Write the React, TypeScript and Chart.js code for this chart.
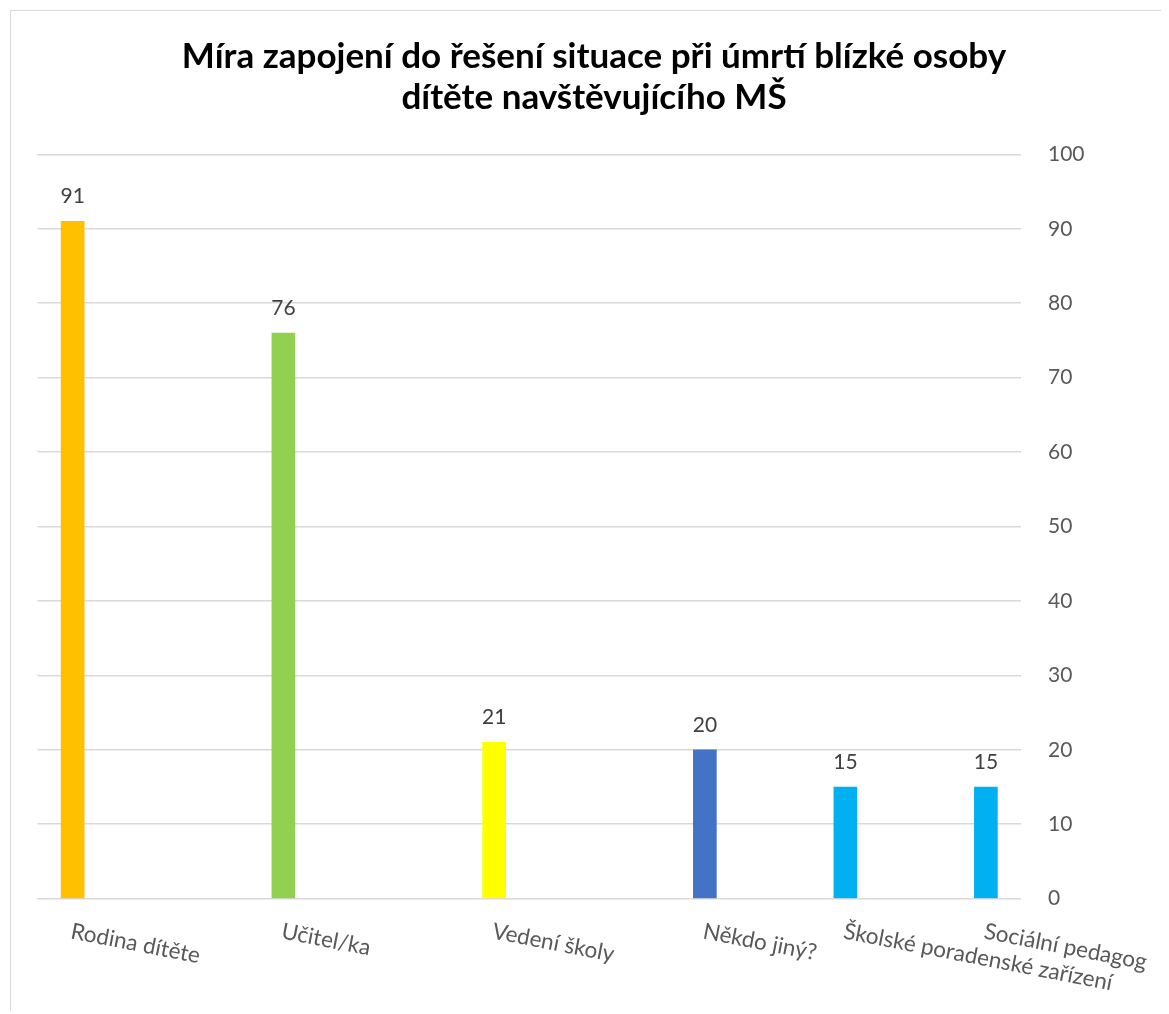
import React, { useEffect, useRef } from 'react';
import { Chart, registerables } from 'chart.js';

Chart.register(...registerables);

// ---- data ----
const titleLines = ['Míra zapojení do řešení situace při úmrtí blízké osoby', 'dítěte navštěvujícího MŠ'];
const categories = ['Rodina dítěte', 'Učitel/ka', 'Vedení školy', 'Někdo jiný?', 'Školské poradenské zařízení', 'Sociální pedagog'];
const values = [91, 76, 21, 20, 15, 15];
const barColors = ['#FFC000', '#92D050', '#FFFF00', '#4472C4', '#00B0F0', '#00B0F0'];
const yMin = 0;
const yMax = 100;
const yStep = 10;

// ---- layout (how many axis slots each category occupies, as in the source chart) ----
const slotsPerCategory = [3, 3, 3, 2, 2, 1];

const FONT = 'Lato, "Open Sans", sans-serif';

export default function App() {
  const ref = useRef<HTMLCanvasElement | null>(null);

  useEffect(() => {
    if (!ref.current) return;

    const slotLabels: string[] = [];
    const slotValues: (number | null)[] = [];
    const slotColors: string[] = [];
    const catSlot: number[] = [];
    categories.forEach((c, i) => {
      catSlot.push(slotLabels.length);
      for (let k = 0; k < slotsPerCategory[i]; k++) {
        slotLabels.push(k === 0 ? c : '');
        slotValues.push(k === 0 ? values[i] : null);
        slotColors.push(barColors[i]);
      }
    });

    const customDraw = {
      id: 'customDraw',
      afterDatasetsDraw(chart: any) {
        const ctx = chart.ctx;
        const meta = chart.getDatasetMeta(0);
        ctx.save();
        ctx.fillStyle = '#404040';
        ctx.font = `21px ${FONT}`;
        ctx.textAlign = 'center';
        ctx.textBaseline = 'alphabetic';
        meta.data.forEach((bar: any, idx: number) => {
          const v = slotValues[idx];
          if (v === null || v === undefined) return;
          ctx.fillText(String(v), bar.x, bar.y - 18);
        });
        ctx.restore();
      },
      afterDraw(chart: any) {
        const ctx = chart.ctx;
        const area = chart.chartArea;
        const xs = chart.scales.x;
        // category labels, rotated
        ctx.save();
        ctx.fillStyle = '#595959';
        ctx.font = `22.5px ${FONT}`;
        ctx.textAlign = 'left';
        ctx.textBaseline = 'alphabetic';
        categories.forEach((c, i) => {
          const x = xs.getPixelForValue(catSlot[i]);
          ctx.save();
          ctx.translate(x - 3, area.bottom + 39.5);
          ctx.rotate((11 * Math.PI) / 180);
          ctx.fillText(c, 0, 0);
          ctx.restore();
        });
        ctx.restore();
        // title
        ctx.save();
        ctx.fillStyle = '#000000';
        ctx.font = `bold 35px ${FONT}`;
        ctx.textAlign = 'center';
        ctx.textBaseline = 'alphabetic';
        ctx.fillText(titleLines[0], 583, 57);
        ctx.fillText(titleLines[1], 583, 98);
        ctx.restore();
      },
    };

    const chart = new Chart(ref.current, {
      type: 'bar',
      data: {
        labels: slotLabels,
        datasets: [
          {
            data: slotValues,
            backgroundColor: slotColors,
            barThickness: 23,
            borderWidth: 0,
          },
        ],
      },
      options: {
        responsive: false,
        animation: false,
        layout: { padding: { left: 26.5, top: 143.3, right: 0, bottom: 112.3 } },
        plugins: {
          legend: { display: false },
          title: { display: false },
          tooltip: { enabled: false },
        },
        scales: {
          x: {
            display: false,
            offset: true,
            grid: { display: false },
          },
          y: {
            position: 'right',
            min: yMin,
            max: yMax,
            ticks: {
              stepSize: yStep,
              color: '#595959',
              font: { family: FONT, size: 21 },
              padding: 27,
            },
            grid: { color: '#d9d9d9', lineWidth: 1.6, drawTicks: false },
            border: { display: false },
            afterFit: (scale: any) => {
              scale.width = 148;
            },
          },
        },
      },
      plugins: [customDraw],
    });

    return () => chart.destroy();
  }, []);

  return (
    <div
      style={{
        marginLeft: 2,
        marginTop: 2,
        borderTop: '1px solid #d9d9d9',
        borderLeft: '1px solid #d9d9d9',
        width: 1158,
        height: 1000,
      }}
    >
      <canvas ref={ref} width={1158} height={1000} style={{ display: 'block', width: 1158, height: 1000 }} />
    </div>
  );
}
